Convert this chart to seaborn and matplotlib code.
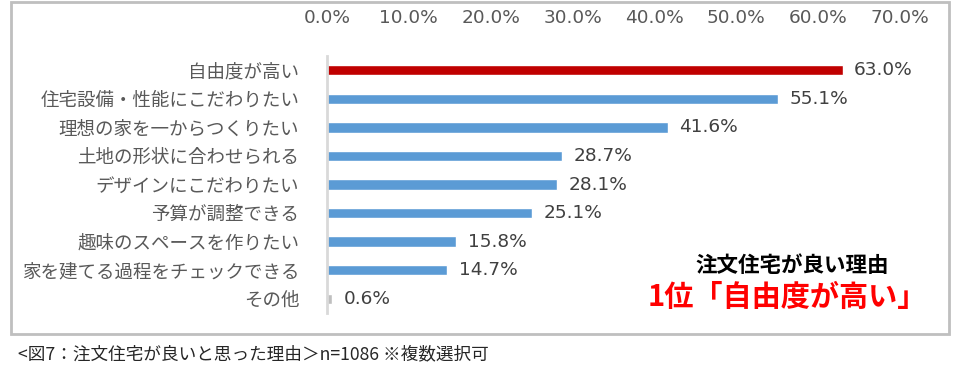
import matplotlib
matplotlib.use('Agg')
import matplotlib.pyplot as plt
import seaborn as sns
import pandas as pd
from matplotlib.patches import Rectangle

# データ
reasons = ['自由度が高い', '住宅設備・性能にこだわりたい', '理想の家を一からつくりたい',
           '土地の形状に合わせられる', 'デザインにこだわりたい', '予算が調整できる',
           '趣味のスペースを作りたい', '家を建てる過程をチェックできる', 'その他']
ratios = [63.0, 55.1, 41.6, 28.7, 28.1, 25.1, 15.8, 14.7, 0.6]
bar_colors = ['#C00000'] + ['#5B9BD5'] * 7 + ['#BFBFBF']
x_ticks = [0, 10, 20, 30, 40, 50, 60, 70]

df = pd.DataFrame({'理由': reasons, '割合': ratios})

sns.set_style('white')
plt.rcParams['font.family'] = ['Noto Sans CJK JP', 'DejaVu Sans']
num_font = ['DejaVu Sans']

fig = plt.figure(figsize=(9.55, 3.88), dpi=100)
ax = fig.add_axes([327 / 955, (388 - 313) / 388, 573 / 955, 257 / 388])

sns.barplot(data=df, y='理由', x='割合', hue='理由', palette=bar_colors,
            saturation=1, legend=False, width=0.36, ax=ax)

ax.set_xlim(0, 70)
ax.set_xticks(x_ticks)
ax.set_xticklabels([f'{t:.1f}%' for t in x_ticks], fontsize=13.3,
                   color='#595959', family=num_font)
ax.xaxis.tick_top()
ax.tick_params(axis='x', length=0, pad=21)
ax.tick_params(axis='y', length=0, pad=20, labelsize=13.3, labelcolor='#595959')
ax.set_xlabel('')
ax.set_ylabel('')
for s in ['top', 'right', 'bottom']:
    ax.spines[s].set_visible(False)
ax.spines['left'].set_color('#D9D9D9')
ax.spines['left'].set_linewidth(2)

# 値ラベル
for i, v in enumerate(ratios):
    ax.text(v + 1.4, i, f'{v:.1f}%', va='center', ha='left', fontsize=13.3,
            color='#404040', family=num_font)

# 注記
fig.text(792 / 955, 1 - 265 / 388, '注文住宅が良い理由', ha='center', va='center',
         fontsize=15.5, fontweight='bold', color='black')
fig.text(787 / 955, 1 - 297 / 388, '1位「自由度が高い」', ha='center', va='center',
         fontsize=21, fontweight='bold', color='#FF0000')

# 枠線
fig.patches.append(Rectangle((11 / 955, 1 - 334 / 388), 938 / 955, 332 / 388,
                             transform=fig.transFigure, fill=False,
                             edgecolor='#BFBFBF', linewidth=2))

# キャプション
fig.text(18 / 955, 1 - 354 / 388, '<図7：注文住宅が良いと思った理由＞n=1086 ※複数選択可',
         ha='left', va='center', fontsize=12.7, color='#262626')

plt.savefig('out.png', dpi=100)
